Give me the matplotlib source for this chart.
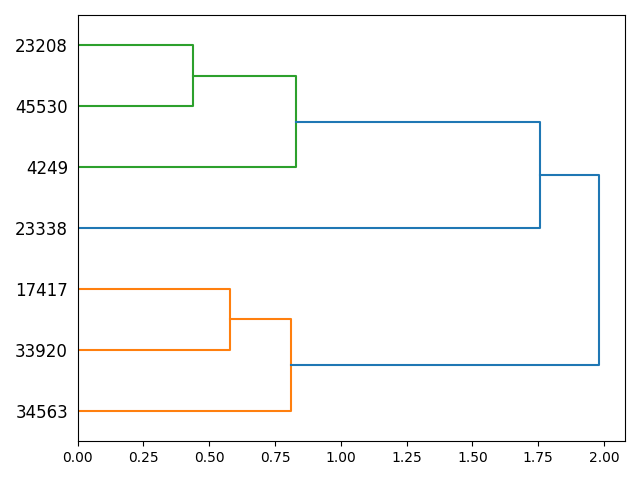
import numpy as np
import matplotlib.pyplot as plt

# leaves, bottom to top
leaves = ["34563", "33920", "17417", "23338", "4249", "45530", "23208"]

# merges: (child a, child b, distance, colour); children are leaf indices or "m<k>" for earlier merges
merges = [
    (2, 1, 0.578, "C1"),
    ("m0", 0, 0.810, "C1"),
    (6, 5, 0.437, "C2"),
    ("m2", 4, 0.829, "C2"),
    ("m3", 3, 1.757, "C0"),
    ("m4", "m1", 1.981, "C0"),
]

pos = {}
height = {}
for i in range(len(leaves)):
    pos[i] = 5 + 10 * i
    height[i] = 0.0

fig, ax = plt.subplots(figsize=(6.4, 4.8))
for k, (a, b, d, col) in enumerate(merges):
    ya, yb = pos[a], pos[b]
    ax.plot([height[a], d, d, height[b]], [ya, ya, yb, yb], color=col)
    pos["m%d" % k] = (ya + yb) / 2
    height["m%d" % k] = d

ax.set_ylim(0, 10 * len(leaves))
ax.set_xlim(0, merges[-1][2] * 1.05)
ax.set_yticks([5 + 10 * i for i in range(len(leaves))])
ax.set_yticklabels(leaves, fontsize=12)
# hide the tick marks but keep their spacing
for line in ax.get_yticklines():
    line.set_visible(False)
plt.tight_layout()
plt.savefig("out.png", dpi=100)
